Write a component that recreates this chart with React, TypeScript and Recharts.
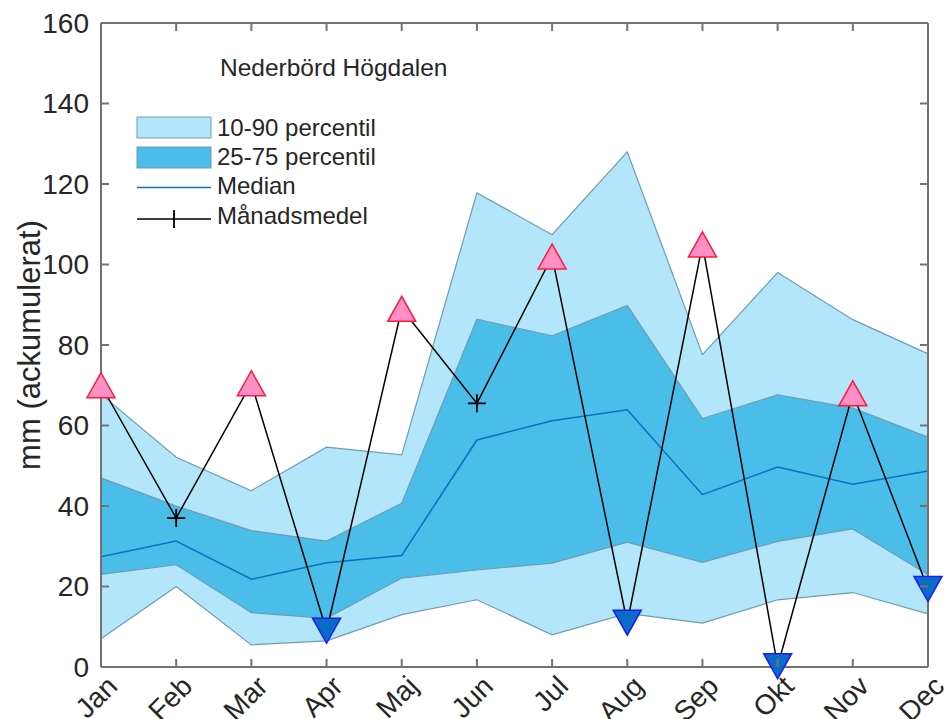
import { Area, ComposedChart, Line, ReferenceLine, XAxis, YAxis } from "recharts"

const months = ["Jan", "Feb", "Mar", "Apr", "Maj", "Jun", "Jul", "Aug", "Sep", "Okt", "Nov", "Dec"]
const p10 = [7, 20, 5.5, 6.5, 13, 16.7, 8, 13.3, 10.9, 16.7, 18.5, 13.2]
const p25 = [23, 25.4, 13.5, 12.1, 22.1, 24.1, 25.8, 31, 26, 31.2, 34.3, 22.9]
const median = [27.4, 31.3, 21.8, 25.9, 27.7, 56.4, 61.2, 63.9, 42.8, 49.7, 45.4, 48.7]
const p75 = [47, 40, 33.9, 31.3, 40.7, 86.4, 82.3, 89.8, 61.7, 67.6, 64.3, 57.1]
const p90 = [67.8, 52.1, 43.8, 54.6, 52.7, 117.8, 107.4, 128, 77.6, 98, 86.3, 77.8]
const monthlyMean = [70, 37, 70.5, 9, 89, 65.5, 102, 11, 105, 0.2, 68, 19.4]
const yTicks = [0, 20, 40, 60, 80, 100, 120, 140, 160]

const data = months.map((month, i) => ({
  month,
  outer: [p10[i], p90[i]],
  inner: [p25[i], p75[i]],
  median: median[i],
  mean: monthlyMean[i],
  low: p25[i],
  high: p75[i],
}))

const WIDTH = 945
const HEIGHT = 719
const MARGIN = { top: 23, right: 17, bottom: 0, left: 0 }
const Y_AXIS_W = 101
const X_AXIS_H = 52
// plot box size, used to mirror the ticks onto the top and right edges
const PLOT_W = WIDTH - MARGIN.left - MARGIN.right - Y_AXIS_W
const PLOT_H = HEIGHT - MARGIN.top - MARGIN.bottom - X_AXIS_H

const AXIS = "#737373"
const TEXT = "#262626"
const FONT = "'Liberation Sans', Arial, Helvetica, sans-serif"
const LIGHT = "#b3e6fb"
const DARK = "#4bbde9"
const EDGE = "#6d9db2"
const MEDIAN = "#0b6fc2"

function BottomTick({ x, y, payload }: any) {
  const tx = x + 11
  const ty = y + 14
  return (
    <g>
      <line x1={x} y1={y} x2={x} y2={y - 8} stroke={AXIS} strokeWidth={2} />
      <line x1={x} y1={y - PLOT_H} x2={x} y2={y - PLOT_H + 8} stroke={AXIS} strokeWidth={2} />
      <text
        x={tx}
        y={ty}
        dy="0.35em"
        textAnchor="end"
        fontSize={28}
        fill={TEXT}
        fontFamily={FONT}
        transform={`rotate(-45 ${tx} ${ty})`}
      >
        {payload.value}
      </text>
    </g>
  )
}

function LeftTick({ x, y, payload }: any) {
  return (
    <g>
      <line x1={x} y1={y} x2={x + 8} y2={y} stroke={AXIS} strokeWidth={2} />
      <line x1={x + PLOT_W} y1={y} x2={x + PLOT_W - 8} y2={y} stroke={AXIS} strokeWidth={2} />
      <text x={x - 12} y={y} dy="0.35em" textAnchor="end" fontSize={28} fill={TEXT} fontFamily={FONT}>
        {payload.value}
      </text>
    </g>
  )
}

function MeanDot({ cx, cy, payload }: any) {
  if (cx == null || cy == null) return <g />
  if (payload.mean > payload.high) {
    return (
      <polygon
        points={`${cx},${cy - 12.5} ${cx + 14},${cy + 12.5} ${cx - 14},${cy + 12.5}`}
        fill="#ff90c6"
        stroke="#ff1a3c"
        strokeWidth={1.5}
      />
    )
  }
  if (payload.mean < payload.low) {
    return (
      <polygon
        points={`${cx - 14},${cy - 12.5} ${cx + 14},${cy - 12.5} ${cx},${cy + 12.5}`}
        fill="#0a6cc4"
        stroke="#1a1aff"
        strokeWidth={1.5}
      />
    )
  }
  return (
    <g stroke="#000" strokeWidth={1.8}>
      <line x1={cx - 9} y1={cy} x2={cx + 9} y2={cy} />
      <line x1={cx} y1={cy - 9} x2={cx} y2={cy + 9} />
    </g>
  )
}

function YLabel({ viewBox }: any) {
  const x = viewBox.x + 29
  const y = viewBox.y + viewBox.height / 2
  return (
    <text
      x={x}
      y={y}
      dy="0.35em"
      textAnchor="middle"
      fontSize={31}
      fill={TEXT}
      fontFamily={FONT}
      transform={`rotate(-90 ${x} ${y})`}
    >
      mm (ackumulerat)
    </text>
  )
}

function LegendBox() {
  return (
    <svg
      width={WIDTH}
      height={HEIGHT}
      style={{ position: "absolute", left: 0, top: 0, pointerEvents: "none" }}
      fontFamily={FONT}
      fill={TEXT}
    >
      <text x={220} y={67} dy="0.35em" fontSize={24.5}>Nederbörd Högdalen</text>
      <rect x={137} y={117} width={74} height={21} fill={LIGHT} stroke={EDGE} strokeWidth={1} />
      <text x={217} y={127.5} dy="0.35em" fontSize={24}>10-90 percentil</text>
      <rect x={137} y={147} width={74} height={21} fill={DARK} stroke={EDGE} strokeWidth={1} />
      <text x={217} y={157} dy="0.35em" fontSize={24}>25-75 percentil</text>
      <line x1={137} y1={187.5} x2={211} y2={187.5} stroke={MEDIAN} strokeWidth={1.5} />
      <text x={217} y={186} dy="0.35em" fontSize={24}>Median</text>
      <line x1={137} y1={219} x2={211} y2={219} stroke="#000" strokeWidth={1.5} />
      <line x1={174} y1={210} x2={174} y2={228} stroke="#000" strokeWidth={1.8} />
      <text x={217} y={216} dy="0.35em" fontSize={24}>Månadsmedel</text>
    </svg>
  )
}

export default function App() {
  return (
    <div style={{ position: "absolute", left: 0, top: 0, width: WIDTH, height: HEIGHT, background: "#fff" }}>
      <ComposedChart width={WIDTH} height={HEIGHT} data={data} margin={MARGIN}>
        <XAxis
          dataKey="month"
          scale="point"
          interval={0}
          height={X_AXIS_H}
          tick={BottomTick}
          tickLine={false}
          tickSize={0}
          tickMargin={0}
          axisLine={{ stroke: AXIS, strokeWidth: 2 }}
        />
        <YAxis
          type="number"
          domain={[0, 160]}
          ticks={yTicks}
          width={Y_AXIS_W}
          tick={LeftTick}
          tickLine={false}
          tickSize={0}
          tickMargin={0}
          axisLine={{ stroke: AXIS, strokeWidth: 2 }}
          label={{ content: YLabel }}
        />
        <Area
          dataKey="outer"
          fill={LIGHT}
          fillOpacity={1}
          stroke={EDGE}
          strokeWidth={1.2}
          type="linear"
          isAnimationActive={false}
          dot={false}
          activeDot={false}
        />
        <Area
          dataKey="inner"
          fill={DARK}
          fillOpacity={1}
          stroke={EDGE}
          strokeWidth={1.2}
          type="linear"
          isAnimationActive={false}
          dot={false}
          activeDot={false}
        />
        <Line
          dataKey="median"
          stroke={MEDIAN}
          strokeWidth={1.5}
          type="linear"
          dot={false}
          activeDot={false}
          isAnimationActive={false}
        />
        <ReferenceLine y={160} stroke={AXIS} strokeWidth={2} />
        <ReferenceLine x="Dec" stroke={AXIS} strokeWidth={2} />
        <Line
          dataKey="mean"
          stroke="#000"
          strokeWidth={1.5}
          type="linear"
          dot={(props: any) => <MeanDot key={props.index} {...props} />}
          activeDot={false}
          isAnimationActive={false}
        />
      </ComposedChart>
      <LegendBox />
    </div>
  )
}
